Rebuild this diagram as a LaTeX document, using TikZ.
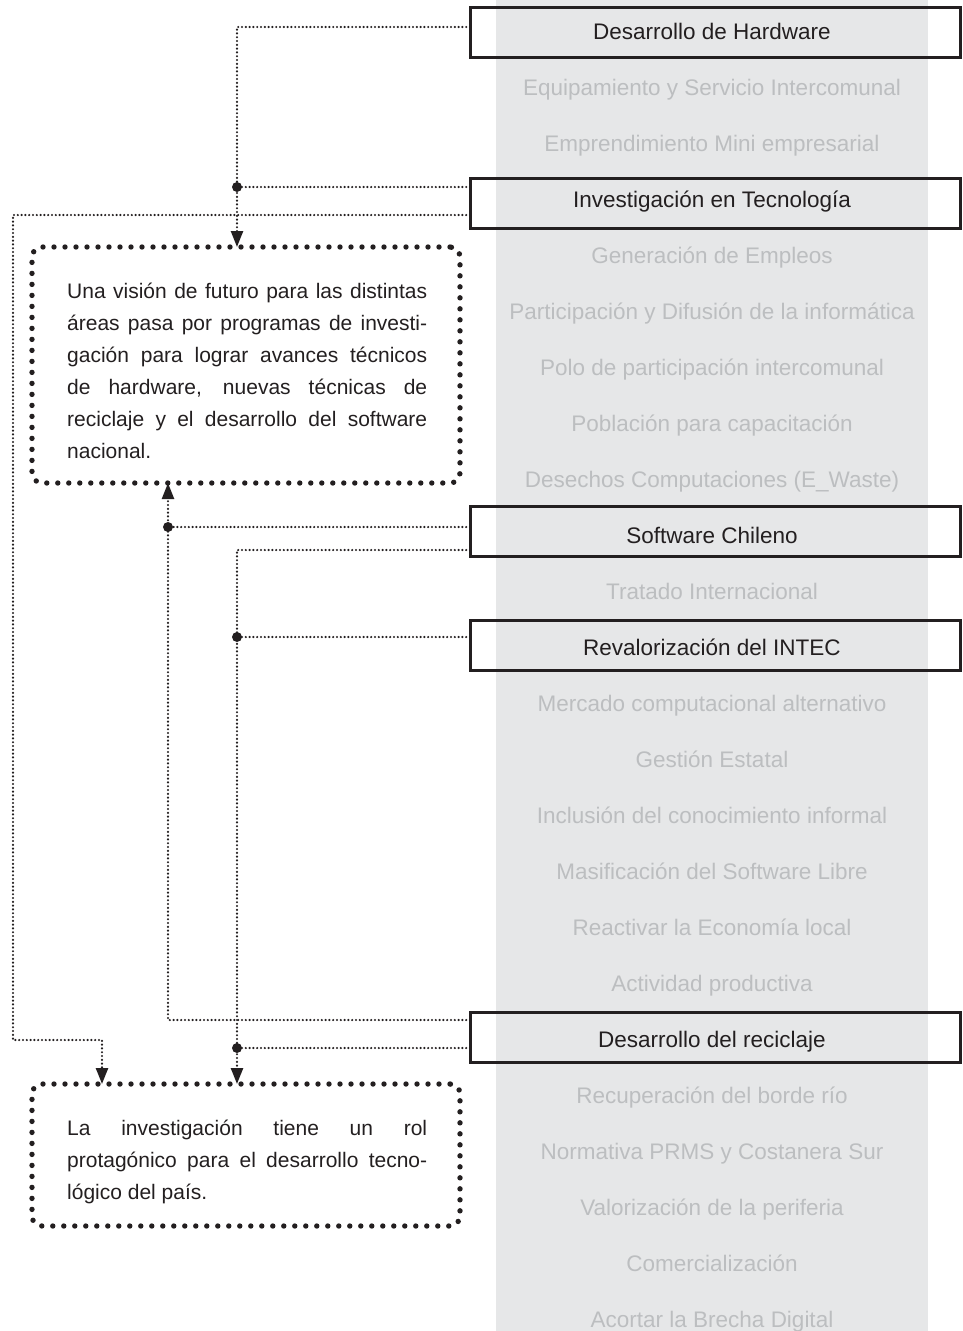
\documentclass[tikz,border=0pt]{standalone}
\usepackage{fontspec}
\setmainfont{Liberation Sans}
\usetikzlibrary{arrows.meta}
\definecolor{ink}{HTML}{231F20}
\definecolor{band}{HTML}{E6E7E8}
\definecolor{faint}{HTML}{BCBEC0}
\begin{document}
\begin{tikzpicture}[x=1pt,y=-1pt,
  rowtext/.style={anchor=base, inner sep=0pt, font=\fontsize{22.5}{27}\selectfont},
  faintrow/.style={rowtext, text=faint},
  mainrow/.style={rowtext, text=ink},
  hlbox/.style={draw=ink, line width=3pt, minimum width=490pt, minimum height=50pt, inner sep=0pt, outer sep=0pt},
  notebox/.style={draw=ink, line width=5.4pt, dash pattern=on 0pt off 11pt, line cap=round, rounded corners=10pt, minimum width=428pt, inner sep=0pt, outer sep=0pt},
  notetext/.style={anchor=north west, inner sep=0pt, text width=360pt, align=justify, text=ink, font=\fontsize{21}{32}\selectfont},
  conn/.style={draw=ink, line width=2.4pt, dash pattern=on 0pt off 3.8pt, line cap=round},
  arrowend/.style={-{Triangle[length=16pt,width=12pt]}},
  joint/.style={circle, fill=ink, inner sep=0pt, minimum size=10pt}
]
\useasboundingbox (0,0) rectangle (962,1331);

% grey column of topics
\fill[band] (496,0) rectangle (928,1331);

\node[mainrow]  (r0)  at (712,39)   {Desarrollo de Hardware};
\node[faintrow] (r1)  at (712,95)   {Equipamiento y Servicio Intercomunal};
\node[faintrow] (r2)  at (712,151)  {Emprendimiento Mini empresarial};
\node[mainrow]  (r3)  at (712,207)  {Investigación en Tecnología};
\node[faintrow] (r4)  at (712,263)  {Generación de Empleos};
\node[faintrow] (r5)  at (712,319)  {Participación y Difusión de la informática};
\node[faintrow] (r6)  at (712,375)  {Polo de participación intercomunal};
\node[faintrow] (r7)  at (712,431)  {Población para capacitación};
\node[faintrow] (r8)  at (712,487)  {Desechos Computaciones (E\_Waste)};
\node[mainrow]  (r9)  at (712,543)  {Software Chileno};
\node[faintrow] (r10) at (712,599)  {Tratado Internacional};
\node[mainrow]  (r11) at (712,655)  {Revalorización del INTEC};
\node[faintrow] (r12) at (712,711)  {Mercado computacional alternativo};
\node[faintrow] (r13) at (712,767)  {Gestión Estatal};
\node[faintrow] (r14) at (712,823)  {Inclusión del conocimiento informal};
\node[faintrow] (r15) at (712,879)  {Masificación del Software Libre};
\node[faintrow] (r16) at (712,935)  {Reactivar la Economía local};
\node[faintrow] (r17) at (712,991)  {Actividad productiva};
\node[mainrow]  (r18) at (712,1047) {Desarrollo del reciclaje};
\node[faintrow] (r19) at (712,1103) {Recuperación del borde río};
\node[faintrow] (r20) at (712,1159) {Normativa PRMS y Costanera Sur};
\node[faintrow] (r21) at (712,1215) {Valorización de la periferia};
\node[faintrow] (r22) at (712,1271) {Comercialización};
\node[faintrow] (r23) at (712,1327) {Acortar la Brecha Digital};

% framed key topics
\node[hlbox] (hw)  at (715,32.5) {};
\node[hlbox] (inv) at (715,203)  {};
\node[hlbox] (sw)  at (715,531)  {};
\node[hlbox] (rev) at (715,645)  {};
\node[hlbox] (rec) at (715,1037) {};

% dotted note boxes
\node[notebox, minimum height=236pt] (na) at (246,365)  {};
\node[notebox, minimum height=142pt] (nb) at (246,1155) {};
\node[notetext] (ta) at (67,275.9) {\strut Una visión de futuro para las distintas\linebreak
  áreas pasa por programas de investi-\linebreak
  gación para lograr avances técnicos\linebreak
  de hardware, nuevas técnicas de\linebreak
  reciclaje y el desarrollo del software\linebreak
  nacional.};
\node[notetext] (tb) at (67,1112.6) {\strut La investigación tiene un rol\linebreak
  protagónico para el desarrollo tecno-\linebreak
  lógico del país.};

% routing lanes
\coordinate (laneL) at (13,0);
\coordinate (laneB) at (168,0);
\coordinate (laneA) at (237,0);
\coordinate (bend)  at (102,1040);

% connector exits on the framed topics
\coordinate (hwA)  at ([yshift=5.5pt]hw.west);
\coordinate (invA) at ([yshift=16pt]inv.west);
\coordinate (invB) at ([yshift=-12pt]inv.west);
\coordinate (swA)  at ([yshift=4pt]sw.west);
\coordinate (swB)  at ([yshift=-19pt]sw.west);
\coordinate (revA) at ([yshift=8pt]rev.west);
\coordinate (recA) at ([yshift=17pt]rec.west);
\coordinate (recB) at ([yshift=-11pt]rec.west);

\draw[conn,arrowend] (hwA) -| (laneA |- na.north);
\draw[conn] (invA) -- (invA -| laneA);
\draw[conn,arrowend] (invB) -| (laneL |- bend) -| (bend |- nb.north);
\draw[conn,arrowend] (recA) -| (laneB |- na.south);
\draw[conn] (swA) -- (swA -| laneB);
\draw[conn,arrowend] (swB) -| (laneA |- nb.north);
\draw[conn] (revA) -- (revA -| laneA);
\draw[conn] (recB) -- (recB -| laneA);

\node[joint] (j1) at (invA -| laneA) {};
\node[joint] (j2) at (swA -| laneB)  {};
\node[joint] (j3) at (revA -| laneA) {};
\node[joint] (j4) at (recB -| laneA) {};
\end{tikzpicture}
\end{document}
